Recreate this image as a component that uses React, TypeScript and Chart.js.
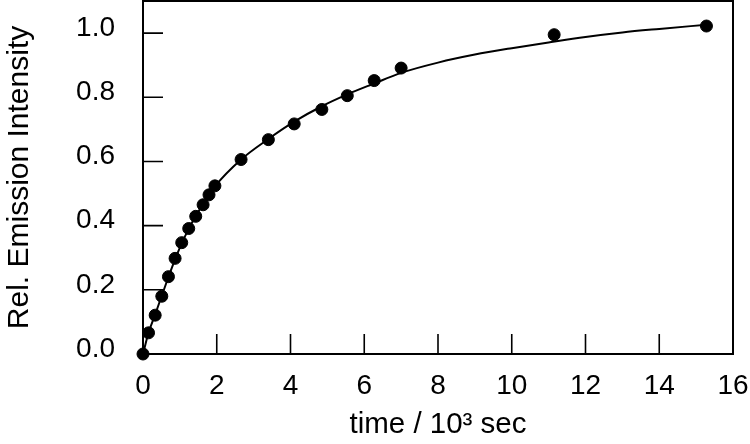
import React, { useEffect, useRef } from "react";
import { Chart, registerables } from "chart.js";

Chart.register(...registerables);

// Measured data points (time in 10^3 s, relative emission intensity)
const timeData = [0, 0.15, 0.33, 0.51, 0.69, 0.87, 1.05, 1.24, 1.43, 1.63, 1.79, 1.95, 2.66, 3.40, 4.10, 4.85, 5.54, 6.27, 7.0, 11.15, 15.28];
const intensityData = [0, 0.066, 0.121, 0.180, 0.241, 0.298, 0.347, 0.391, 0.429, 0.465, 0.496, 0.524, 0.606, 0.668, 0.717, 0.762, 0.805, 0.852, 0.891, 0.995, 1.022];

// Fitted curve
const fitTime = [0, 0.15, 0.33, 0.51, 0.69, 0.87, 1.05, 1.24, 1.43, 1.63, 1.95, 2.66, 3.40, 4.10, 4.85, 5.54, 6.27, 7.0, 8, 9, 10, 11, 12, 13, 14, 15.28];
const fitValues = [0, 0.066, 0.123, 0.182, 0.240, 0.295, 0.345, 0.390, 0.430, 0.467, 0.522, 0.606, 0.670, 0.724, 0.772, 0.809, 0.843, 0.876, 0.908, 0.933, 0.953, 0.971, 0.988, 1.002, 1.013, 1.026];

const xTickValues = [0, 2, 4, 6, 8, 10, 12, 14, 16];
const yTickValues = [0, 0.2, 0.4, 0.6, 0.8, 1.0];

const xTitle = "time / 10³ sec";
const yTitle = "Rel. Emission Intensity";

const FONT = "'Liberation Sans', Arial, Helvetica, sans-serif";

const framePlugin = {
  id: "frameAndTicks",
  beforeDatasetsDraw(chart: any) {
    const { ctx, chartArea, scales } = chart;
    const { left, right, top, bottom } = chartArea;
    ctx.save();
    ctx.strokeStyle = "#000";
    ctx.lineWidth = 1.6;
    // inward tick marks
    ctx.beginPath();
    for (const v of xTickValues) {
      const px = scales.x.getPixelForValue(v);
      ctx.moveTo(px, bottom);
      ctx.lineTo(px, bottom - 20);
    }
    for (const v of yTickValues) {
      const py = scales.y.getPixelForValue(v);
      ctx.moveTo(left, py);
      ctx.lineTo(left + 20, py);
    }
    ctx.stroke();
    ctx.lineWidth = 2;
    ctx.strokeRect(left, top, right - left, bottom - top);
    ctx.restore();
  },
};

const zeroPadding = (scale: any) => {
  scale.paddingTop = 0;
  scale.paddingBottom = 0;
  scale.paddingLeft = 0;
  scale.paddingRight = 0;
};

export default function App() {
  const canvasRef = useRef<HTMLCanvasElement>(null);

  useEffect(() => {
    const canvas = canvasRef.current;
    if (!canvas) return;
    const chart = new Chart(canvas, {
      type: "scatter",
      data: {
        datasets: [
          {
            label: "data",
            data: timeData.map((t, i) => ({ x: t, y: intensityData[i] })),
            backgroundColor: "#000",
            borderColor: "#000",
            pointRadius: 6,
            pointHoverRadius: 6,
            showLine: false,
            clip: false,
            order: 0,
          },
          {
            label: "fit",
            data: fitTime.map((t, i) => ({ x: t, y: fitValues[i] })),
            borderColor: "#000",
            borderWidth: 2,
            pointRadius: 0,
            showLine: true,
            cubicInterpolationMode: "monotone",
            fill: false,
            clip: false,
            order: 1,
          },
        ],
      },
      options: {
        animation: false,
        responsive: false,
        maintainAspectRatio: false,
        events: [],
        layout: { autoPadding: false, padding: { left: 0, right: 17, top: 1, bottom: 0 } },
        plugins: {
          legend: { display: false },
          tooltip: { enabled: false },
        },
        scales: {
          x: {
            type: "linear",
            min: 0,
            max: 16,
            grid: { display: false, drawTicks: false },
            border: { display: false },
            afterBuildTicks: (scale: any) => {
              scale.ticks = xTickValues.map((v) => ({ value: v }));
            },
            afterFit: (scale: any) => {
              scale.height = 90;
              zeroPadding(scale);
            },
            ticks: {
              color: "#000",
              padding: 15,
              maxRotation: 0,
              autoSkip: false,
              font: { family: FONT, size: 28 },
              callback: (v: any) => String(v),
            },
            title: {
              display: true,
              text: xTitle,
              color: "#000",
              font: { family: FONT, size: 29.5, lineHeight: 1 },
              padding: { top: 0, bottom: 4 },
            },
          },
          y: {
            type: "linear",
            min: 0,
            max: 1.1,
            grid: { display: false, drawTicks: false },
            border: { display: false },
            afterBuildTicks: (scale: any) => {
              scale.ticks = yTickValues.map((v) => ({ value: v }));
            },
            afterFit: (scale: any) => {
              scale.width = 143;
              zeroPadding(scale);
            },
            ticks: {
              color: "#000",
              padding: 28,
              labelOffset: -5,
              autoSkip: false,
              font: { family: FONT, size: 28 },
              callback: (v: any) => Number(v).toFixed(1),
            },
            title: {
              display: true,
              text: yTitle,
              color: "#000",
              font: { family: FONT, size: 30, lineHeight: 1 },
              padding: { top: 5, bottom: 0 },
            },
          },
        },
      },
      plugins: [framePlugin],
    } as any);
    return () => chart.destroy();
  }, []);

  return (
    <div style={{ position: "absolute", left: 0, top: 0, width: 750, height: 444, background: "#fff" }}>
      <canvas ref={canvasRef} width={750} height={444} style={{ display: "block" }} />
    </div>
  );
}
